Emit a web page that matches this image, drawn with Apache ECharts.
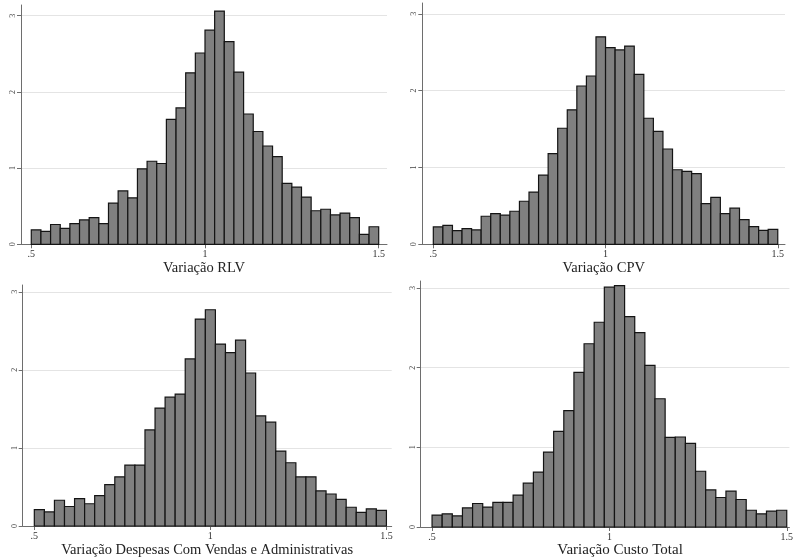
<!DOCTYPE html>
<html>
<head>
<meta charset="utf-8">
<script src="https://cdn.jsdelivr.net/npm/echarts@6/dist/echarts.min.js"></script>
<style>
  html, body { margin: 0; padding: 0; background: #ffffff; }
  #chart { width: 796px; height: 559px; }
</style>
</head>
<body>
<div id="chart"></div>
<script>
// Histogram densities (one value per bin), bins evenly spaced on [binLo, binHi]
const binLo = 0.5;
const binHi = 1.5;

const densRLV = [0.19, 0.17, 0.26, 0.21, 0.27, 0.32, 0.35, 0.27, 0.54, 0.70, 0.61, 0.99,
                 1.09, 1.06, 1.64, 1.79, 2.25, 2.51, 2.81, 3.06, 2.66, 2.26, 1.71, 1.48,
                 1.29, 1.15, 0.80, 0.75, 0.62, 0.44, 0.46, 0.385, 0.41, 0.35, 0.13, 0.23];

const densCPV = [0.226, 0.247, 0.178, 0.204, 0.187, 0.365, 0.40, 0.38, 0.43, 0.56, 0.68, 0.90,
                 1.18, 1.51, 1.75, 2.06, 2.19, 2.70, 2.56, 2.53, 2.58, 2.21, 1.64, 1.47,
                 1.24, 0.97, 0.95, 0.92, 0.53, 0.61, 0.40, 0.47, 0.32, 0.23, 0.18, 0.195];

const densDVA = [0.21, 0.18, 0.33, 0.25, 0.35, 0.285, 0.39, 0.53, 0.63, 0.78, 0.78, 1.23,
                 1.51, 1.65, 1.69, 2.14, 2.65, 2.77, 2.33, 2.22, 2.38, 1.96, 1.41, 1.33,
                 0.96, 0.81, 0.63, 0.63, 0.45, 0.41, 0.34, 0.24, 0.175, 0.22, 0.20];

const densCT  = [0.15, 0.166, 0.14, 0.24, 0.295, 0.25, 0.31, 0.31, 0.40, 0.55, 0.69, 0.94,
                 1.20, 1.46, 1.94, 2.30, 2.57, 3.01, 3.03, 2.64, 2.44, 2.03, 1.61, 1.125,
                 1.13, 1.05, 0.70, 0.465, 0.37, 0.45, 0.345, 0.21, 0.166, 0.20, 0.21];

const titles = ['Variação RLV', 'Variação CPV',
                'Variação Despesas Com Vendas e Administrativas', 'Variação Custo Total'];

const xTickValues = [0.5, 1, 1.5];
const xTickLabels = ['.5', '1', '1.5'];
const yTickValues = [0, 1, 2, 3];
const yTickLabels = ['0', '1', '2', '3'];

// Panel frames (pixels) and axis extents; the last panel is cut by the right edge,
// so its title is nudged right to sit at the centre of the full panel
const panels = [
  { dens: densRLV, grid: { left: 21,    top: 5,   width: 366,   height: 239.3 }, x: [0.4704, 1.5239], yMax: 3.14,  gap: 15, fs: 14.5, shift: 0 },
  { dens: densCPV, grid: { left: 422.3, top: 3,   width: 362.7, height: 241.3 }, x: [0.468, 1.521],   yMax: 3.14,  gap: 15, fs: 14.5, shift: 0 },
  { dens: densDVA, grid: { left: 22.7,  top: 285, width: 369,   height: 241.7 }, x: [0.467, 1.515],   yMax: 3.087, gap: 17, fs: 14.5, shift: 0 },
  { dens: densCT,  grid: { left: 420.7, top: 281, width: 375.3, height: 248   }, x: [0.468, 1.5075],  yMax: 3.088, gap: 16, fs: 15,   shift: 30 }
];

const serif = "'Liberation Serif', 'Times New Roman', serif";
const axisGray = '#6e6e6e';

function binData(dens) {
  const w = (binHi - binLo) / dens.length;
  return dens.map((v, i) => [binLo + i * w, binLo + (i + 1) * w, v]);
}

function renderBin(params, api) {
  const p0 = api.coord([api.value(0), api.value(2)]);
  const p1 = api.coord([api.value(1), 0]);
  return {
    type: 'rect',
    shape: { x: p0[0], y: p0[1], width: p1[0] - p0[0], height: p1[1] - p0[1] },
    style: { fill: '#808080', stroke: '#141414', lineWidth: 1.2 }
  };
}

const option = {
  backgroundColor: '#ffffff',
  animation: false,
  grid: panels.map(p => Object.assign({ containLabel: false }, p.grid)),
  xAxis: panels.map((p, i) => ({
    type: 'value',
    gridIndex: i,
    min: p.x[0],
    max: p.x[1],
    name: titles[i],
    nameLocation: 'middle',
    nameGap: p.gap,
    nameTextStyle: { fontFamily: serif, fontSize: p.fs, color: '#222', padding: [0, 0, 0, p.shift] },
    axisLine: { show: true, onZero: false, lineStyle: { color: axisGray, width: 1 } },
    axisTick: { show: true, length: 4, customValues: xTickValues, lineStyle: { color: axisGray } },
    axisLabel: {
      customValues: xTickValues,
      formatter: v => { const k = xTickValues.indexOf(+v); return k >= 0 ? xTickLabels[k] : ''; },
      fontFamily: serif, fontSize: 10, color: '#333', margin: 5
    },
    splitLine: { show: false }
  })),
  yAxis: panels.map((p, i) => ({
    type: 'value',
    gridIndex: i,
    min: 0,
    max: p.yMax,
    axisLine: { show: true, lineStyle: { color: axisGray, width: 1 } },
    axisTick: { show: true, length: 4, customValues: yTickValues, lineStyle: { color: axisGray } },
    axisLabel: {
      customValues: yTickValues,
      formatter: v => { const k = yTickValues.indexOf(+v); return k >= 0 ? yTickLabels[k] : ''; },
      rotate: 90, fontFamily: serif, fontSize: 8, color: '#444', margin: 4
    },
    splitLine: { show: true, lineStyle: { color: '#e4e4e4', width: 1 } }
  })),
  series: panels.map((p, i) => ({
    type: 'custom',
    xAxisIndex: i,
    yAxisIndex: i,
    renderItem: renderBin,
    encode: { x: [0, 1], y: 2 },
    data: binData(p.dens)
  }))
};

const chart = echarts.init(document.getElementById('chart'), null, { renderer: 'canvas' });
chart.setOption(option);
</script>
</body>
</html>
